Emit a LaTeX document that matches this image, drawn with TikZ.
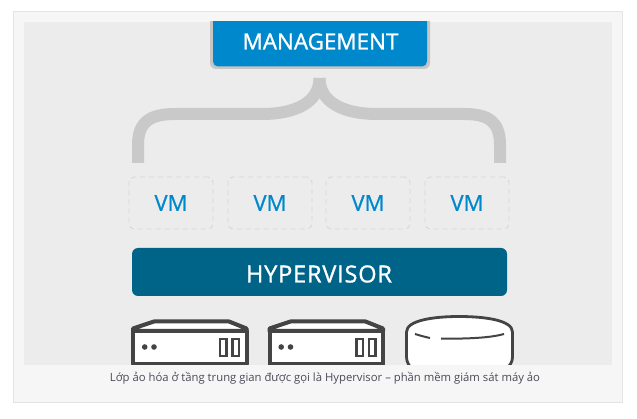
\documentclass[tikz,border=0pt]{standalone}
\usepackage{fontspec}
\setmainfont{Open Sans}
\newfontfamily\labelfont[FakeBold=1.2]{Open Sans}
\newfontfamily\wideLabelfont[FakeBold=1.2,LetterSpace=3.5]{Open Sans}
\newfontfamily\vmfont[FakeBold=0.8]{Open Sans}
\definecolor{framefill}{HTML}{F6F6F6}
\definecolor{frameline}{HTML}{E4E4E4}
\definecolor{panel}{HTML}{ECECEC}
\definecolor{mgmtblue}{HTML}{0088CC}
\definecolor{mgmtedge}{HTML}{C9C5C2}
\definecolor{hyperblue}{HTML}{006388}
\definecolor{bracegrey}{HTML}{C9C9C9}
\definecolor{vmedge}{HTML}{D6D6D6}
\definecolor{hwdark}{HTML}{444444}
\definecolor{captioncol}{HTML}{4A4A5A}
\tikzset{
  vmbox/.style={draw=vmedge,line width=0.9pt,dash pattern=on 5pt off 4pt,rounded corners=5pt,minimum width=84pt,minimum height=52pt,inner sep=0pt,text=mgmtblue,font=\vmfont\fontsize{22}{22}\selectfont,anchor=center},
  bandtext/.style={text=white,font=\labelfont\fontsize{22.4}{24}\selectfont},
  brace/.style={draw=bracegrey,line width=12pt,line cap=butt},
  hw/.style={draw=hwdark,line width=4pt,line join=round,fill=white},
  hwthin/.style={draw=hwdark,line width=2.3pt,fill=white}
}
\newcommand{\serverbox}[1]{%
  \begin{scope}[xshift=#1pt]
    \draw[hw] (133,331) -- (133,364) -- (246.5,364) -- (246.5,331) -- cycle;
    \draw[hw,fill=white] (133,331) -- (133,328.5) -- (154,321.5) -- (229,321.5) -- (246.5,328.5) -- (246.5,331) -- cycle;
    \fill[hwdark] (144.7,347) circle (2.8pt) (154,347) circle (2.8pt);
    \draw[hwthin] (220,339) rectangle (226.5,356);
    \draw[hwthin] (232.5,339) rectangle (239,356);
  \end{scope}}
\begin{document}
\begin{tikzpicture}[x=1pt,y=-1pt]
\useasboundingbox (0,0) rectangle (637,419);
\fill[white] (0,0) rectangle (637,419);
\draw[draw=frameline,fill=framefill,line width=1pt] (13.5,11.5) rectangle (622.5,402.5);
\fill[panel] (24,22) rectangle (612,365);
\begin{scope}
\clip (24,22) rectangle (612,365);
% management
\fill[mgmtedge,rounded corners=6pt] (210,10) rectangle (430,69);
\node[fill=mgmtblue,rounded corners=5pt,minimum width=214pt,minimum height=57pt,inner sep=0pt] (mgmt) at (320,38) {};
\node[bandtext,anchor=center] (mgmtlabel) at (320.5,41.5) {MANAGEMENT};
% brace
\coordinate (stem) at (319.5,78);
\coordinate (legL) at (138,163);
\coordinate (legR) at (500,163);
\draw[brace] (legL) -- (138,145) .. controls (138,122) and (150,114) .. (175,114) -- (262,114) .. controls (296,114) and (319.5,102) .. (stem);
\draw[brace] (legR) -- (500,145) .. controls (500,122) and (489,114) .. (464,114) -- (377,114) .. controls (343,114) and (319.5,102) .. (stem);
% VMs
\node[vmbox] (vm1) at (171,203) {\raisebox{-1pt}{VM}};
\node[vmbox] (vm2) at (270,203) {\raisebox{-1pt}{VM}};
\node[vmbox] (vm3) at (368,203) {\raisebox{-1pt}{VM}};
\node[vmbox] (vm4) at (467,203) {\raisebox{-1pt}{VM}};
% hypervisor
\node[fill=hyperblue,rounded corners=6pt,minimum width=375pt,minimum height=48pt,inner sep=0pt] (hyper) at (319.5,272) {};
\node[bandtext,font=\wideLabelfont\fontsize{23.5}{24}\selectfont] (hyperlabel) at (319,274) {HYPERVISOR};
% servers
\serverbox{0}
\serverbox{136.5}
% disk
\draw[hw,line width=2.8pt] (406.5,332) .. controls (406.5,320) and (435,316.5) .. (459,316.5) .. controls (484,316.5) and (512.5,320) .. (512.5,332) -- (512.5,357) .. controls (512.5,362) and (510,366) .. (505,370) -- (413,370) .. controls (409,366) and (406.5,362) .. (406.5,357) -- cycle;
\draw[draw=hwdark,line width=2pt] (415,334) .. controls (420,335.5) and (425,337) .. (430,338);
\draw[draw=hwdark,line width=2pt] (441,338.5) .. controls (465,339) and (490,338) .. (504,334);
\end{scope}
% caption
\node[text=captioncol,font=\fontsize{11.3}{12}\selectfont,inner sep=0pt] (caption) at (325,378) {Lớp ảo hóa ở tầng trung gian được gọi là Hypervisor – phần mềm giám sát máy ảo};
\end{tikzpicture}
\end{document}
